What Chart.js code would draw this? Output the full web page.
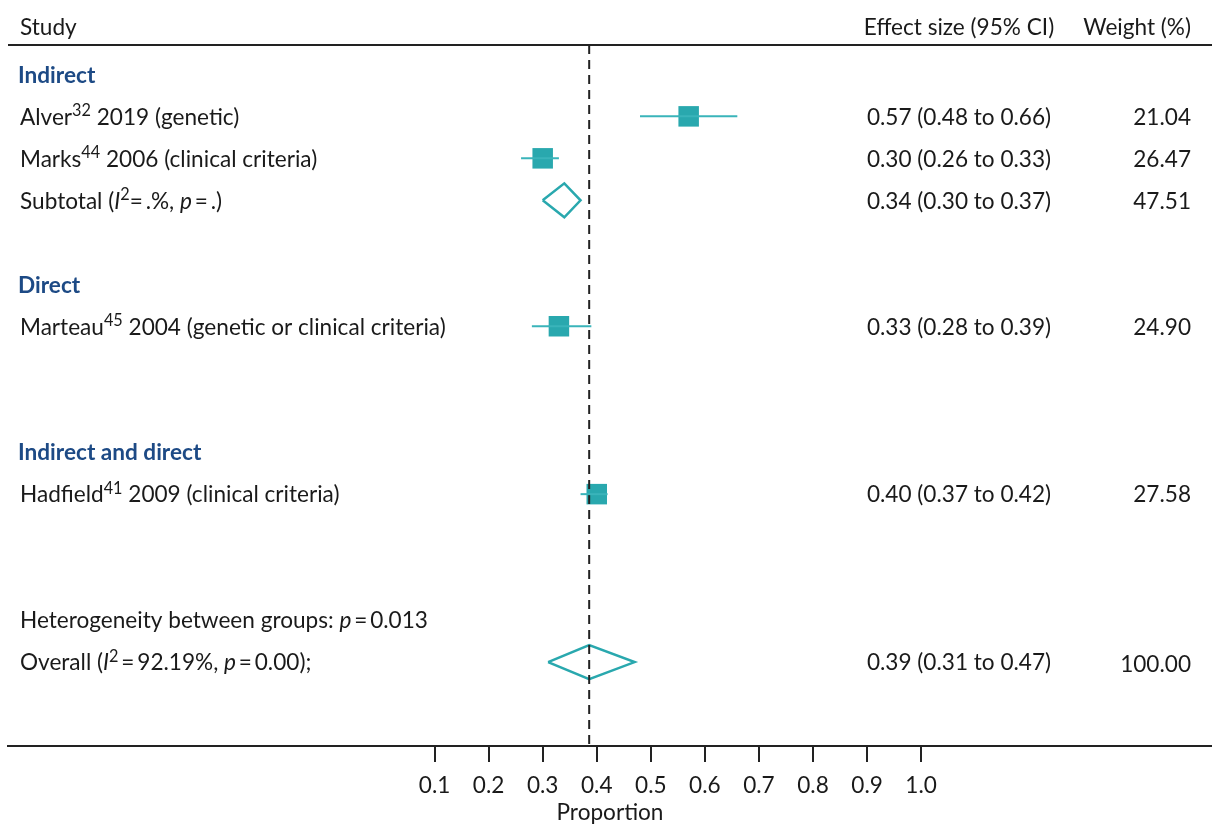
<!DOCTYPE html>
<html>
<head>
<meta charset="utf-8">
<script src="https://cdn.jsdelivr.net/npm/chart.js@4"></script>
<style>
  html, body { margin: 0; padding: 0; background: #fff; }
  #wrap { width: 1212px; height: 826px; position: relative; }
</style>
</head>
<body>
<div id="wrap"><canvas id="forest"></canvas></div>
<script>
/* ── Data ─────────────────────────────────────────────────────────────
   Rows are counted from the top of the plot (1 = first line under header).
   Markup: ^{..} superscript, *..* italic.                               */
const groupNames = ["Indirect", "Direct", "Indirect and direct"];
const groupRows  = [1, 6, 10];

const studyLabels = [
  "Alver^{32} 2019 (genetic)",
  "Marks^{44} 2006 (clinical criteria)",
  "Marteau^{45} 2004 (genetic or clinical criteria)",
  "Hadfield^{41} 2009 (clinical criteria)",
];
const studyRows    = [2, 3, 7, 11];
const studyEst     = [0.57, 0.30, 0.33, 0.40];
const studyLo      = [0.48, 0.26, 0.28, 0.37];
const studyHi      = [0.66, 0.33, 0.39, 0.42];
const studyWeights = ["21.04", "26.47", "24.90", "27.58"];

const pooledLabels  = [
  "Subtotal (*I*^{2}=\u2009.%, *p*\u2009=\u2009.)",
  "Overall (*I*^{2}\u2009=\u200992.19%, *p*\u2009=\u20090.00);",
];
const pooledRows    = [4, 15];
const pooledEst     = [0.34, 0.386];
const pooledLo      = [0.30, 0.31];
const pooledHi      = [0.37, 0.47];
const pooledWeights = ["47.51", "100.00"];

const noteText = "Heterogeneity between groups: *p*\u2009=\u20090.013";
const noteRow  = 14;

const xTicks  = [0.1, 0.2, 0.3, 0.4, 0.5, 0.6, 0.7, 0.8, 0.9, 1.0];
const headers = ["Study", "Effect size (95% CI)", "Weight (%)"];

/* ── Style ────────────────────────────────────────────────────────── */
const TEAL   = "#29a8ae";
const TEAL_L = "#3ab4ba";
const INK    = "#1a1a1a";
const BLUE   = "#1d4a85";
const FONT   = "Lato, 'Open Sans', sans-serif";
const FS     = 22.6;
const DIAMOND_H = 0.405;   // half height of pooled diamonds, in rows

Chart.defaults.font.family = FONT;
Chart.defaults.color = INK;

/* ── Datasets ─────────────────────────────────────────────────────── */
const ciSets = studyRows.map((r, i) => ({
  data: [{ x: studyLo[i], y: r }, { x: studyHi[i], y: r }],
  showLine: true,
  borderColor: TEAL_L,
  borderWidth: 2,
  pointRadius: 0,
}));

const squareSet = {
  data: studyRows.map((r, i) => ({ x: studyEst[i], y: r })),
  pointStyle: "rect",
  pointRadius: 14.5,
  backgroundColor: TEAL,
  borderWidth: 0,
};

const diamondSets = pooledRows.map((r, i) => ({
  data: [
    { x: pooledLo[i],  y: r },
    { x: pooledEst[i], y: r - DIAMOND_H },
    { x: pooledHi[i],  y: r },
    { x: pooledEst[i], y: r + DIAMOND_H },
    { x: pooledLo[i],  y: r },
  ],
  showLine: true,
  tension: 0,
  borderColor: TEAL,
  borderWidth: 2.5,
  borderJoinStyle: "miter",
  pointRadius: 0,
}));

const refLine = {
  data: [{ x: pooledEst[1], y: 0.3 }, { x: pooledEst[1], y: 17 }],
  showLine: true,
  borderColor: "#222",
  borderWidth: 2,
  borderDash: [9, 6],
  pointRadius: 0,
};

/* ── Rich text helper ─────────────────────────────────────────────── */
function drawRich(ctx, str, x, y, opts = {}) {
  const size = opts.size || FS;
  const weight = opts.bold ? "bold " : "";
  const parts = str.split(/(\^\{[^}]*\}|\*[^*]*\*)/).filter(Boolean);
  const segs = parts.map((p) => {
    if (p.startsWith("^{")) return { t: p.slice(2, -1), font: `${size * 0.72}px ${FONT}`, dy: -size * 0.3 };
    if (p.startsWith("*"))  return { t: p.slice(1, -1), font: `italic ${size}px ${FONT}`, dy: 0 };
    return { t: p, font: `${weight}${size}px ${FONT}`, dy: 0 };
  });
  let total = 0;
  segs.forEach((s) => { ctx.font = s.font; s.w = ctx.measureText(s.t).width; total += s.w; });
  let cx = x;
  if (opts.align === "right") cx = x - total;
  if (opts.align === "center") cx = x - total / 2;
  ctx.save();
  ctx.fillStyle = opts.color || INK;
  ctx.textAlign = "left";
  ctx.textBaseline = "middle";
  segs.forEach((s) => {
    ctx.font = s.font;
    ctx.fillText(s.t, cx, y + s.dy);
    cx += s.w;
  });
  ctx.restore();
}

const ci = (e, l, h) => `${e.toFixed(2)} (${l.toFixed(2)} to ${h.toFixed(2)})`;

/* ── Plugin: table text + header rule ─────────────────────────────── */
const forestText = {
  id: "forestText",
  afterDraw(chart) {
    const { ctx, chartArea, scales: { y } } = chart;
    const colStudy = 20, colEffect = 959, colWeight = 1191;

    // header
    drawRich(ctx, headers[0], colStudy, 28);
    drawRich(ctx, headers[1], colEffect, 28, { align: "center" });
    drawRich(ctx, headers[2], colWeight, 28, { align: "right" });

    ctx.save();
    ctx.strokeStyle = "#222";
    ctx.lineWidth = 2;
    ctx.beginPath();
    ctx.moveTo(chartArea.left, chartArea.top);
    ctx.lineTo(chartArea.right, chartArea.top);
    ctx.stroke();
    ctx.restore();

    groupNames.forEach((g, i) => {
      drawRich(ctx, g, colStudy - 2, y.getPixelForValue(groupRows[i]) + 1, { bold: true, color: BLUE });
    });

    studyLabels.forEach((s, i) => {
      const py = y.getPixelForValue(studyRows[i]) + 1;
      drawRich(ctx, s, colStudy, py);
      drawRich(ctx, ci(studyEst[i], studyLo[i], studyHi[i]), colEffect, py, { align: "center" });
      drawRich(ctx, studyWeights[i], colWeight, py, { align: "right" });
    });

    pooledLabels.forEach((s, i) => {
      const py = y.getPixelForValue(pooledRows[i]) + 1;
      drawRich(ctx, s, colStudy, py);
      drawRich(ctx, ci(pooledEst[i], pooledLo[i], pooledHi[i]), colEffect, py, { align: "center" });
      drawRich(ctx, pooledWeights[i], colWeight, py + (i === 1 ? 2 : 0), { align: "right" });
    });

    drawRich(ctx, noteText, colStudy, y.getPixelForValue(noteRow) + 1);
  },
};

/* ── Chart ────────────────────────────────────────────────────────── */
new Chart(document.getElementById("forest"), {
  type: "scatter",
  data: { datasets: [...ciSets, refLine, ...diamondSets, squareSet] },
  options: {
    responsive: true,
    maintainAspectRatio: false,
    animation: false,
    layout: { autoPadding: false, padding: { top: 45, left: 8, right: 0, bottom: 0 } },
    plugins: { legend: { display: false }, tooltip: { enabled: false } },
    scales: {
      x: {
        type: "linear",
        min: -0.689,
        max: 1.538,
        afterBuildTicks: (axis) => { axis.ticks = xTicks.map((v) => ({ value: v })); },
        afterFit: (axis) => { axis.height = 80; },
        ticks: {
          color: INK,
          font: { size: FS },
          padding: 10,
          maxRotation: 0,
          autoSkip: false,
          callback: (v) => Number(v).toFixed(1),
        },
        grid: { drawOnChartArea: false, drawTicks: true, tickLength: 16, color: "#222", lineWidth: 2 },
        border: { display: true, color: "#222", width: 2 },
        title: { display: true, text: "Proportion", color: INK, font: { size: FS }, padding: { top: 1, bottom: 0 } },
      },
      y: { type: "linear", reverse: true, min: 0.3, max: 17, display: false },
    },
  },
  plugins: [forestText],
});
</script>
</body>
</html>
